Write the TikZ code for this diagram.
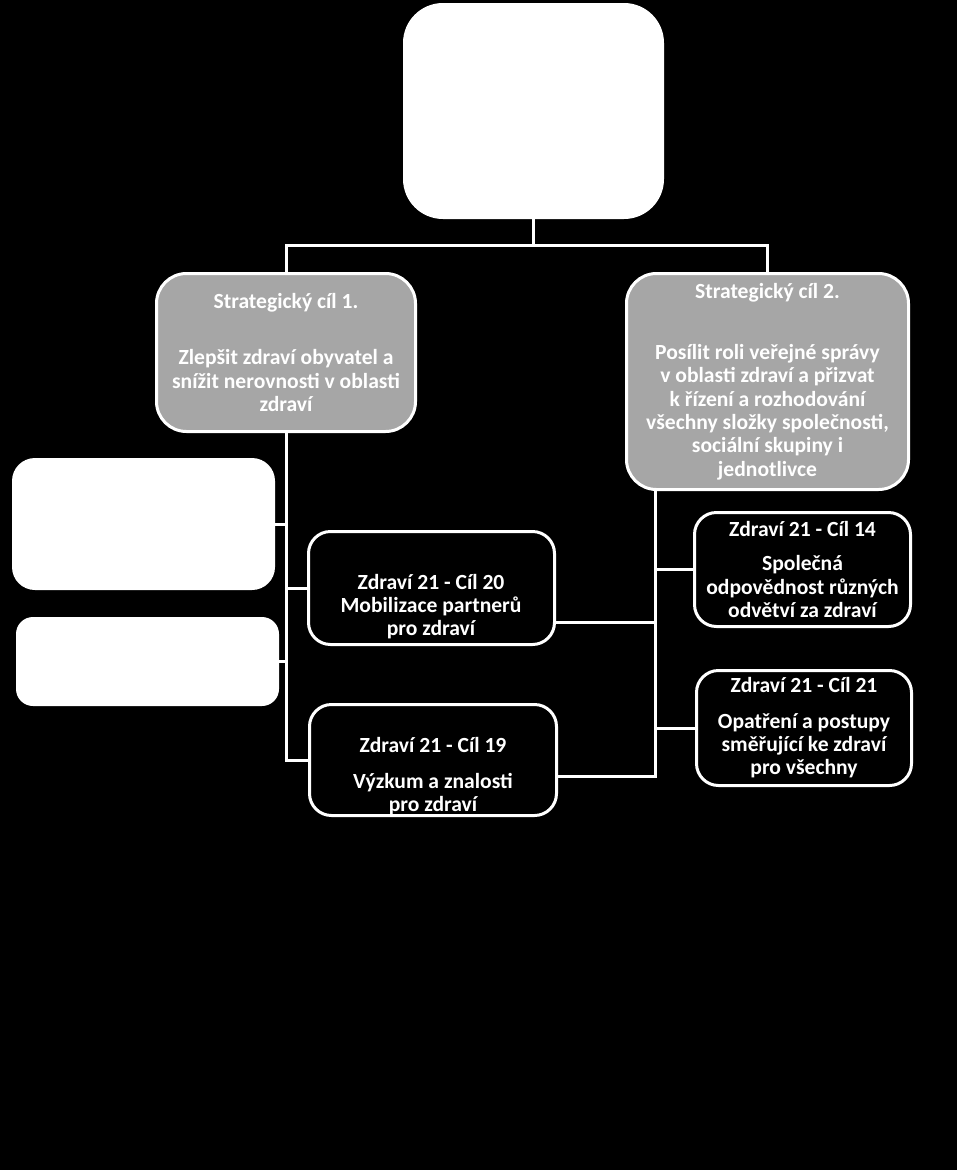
\documentclass[tikz,border=0pt]{standalone}
\usepackage{fontspec}
\setmainfont{Carlito}
\usepackage{tikz}
\usetikzlibrary{calc}
\definecolor{stratgray}{RGB}{166,166,166}

\begin{document}
\begin{tikzpicture}[x=1pt, y=-1pt,
		every node/.style={font=\fontsize{21.6}{23.3}\selectfont\bfseries, text=white, align=center, inner sep=0pt},
		stratbox/.style={draw=white, line width=3pt, fill=stratgray, rounded corners=30pt},
		goalbox/.style={draw=white, line width=3pt, fill=black, rounded corners=22pt},
		blankbox/.style={fill=white, rounded corners=#1},
		blankbox/.default=20pt,
		link/.style={draw=white, line width=3pt}]
			\fill[black](0, 0) rectangle (957, 1170);
			\useasboundingbox (0, 0) rectangle (957, 1170);

			% top and the two strategic goals
			\node[blankbox=40pt, minimum width=261pt, minimum height=216pt] (top) at (533.5, 111) {};
			\node[stratbox, minimum width=259pt, minimum height=158pt] (s1) at (286, 352.5) {Strategický cíl 1.\\[33pt]Zlepšit zdraví obyvatel a\\snížit nerovnosti v oblasti\\zdraví};
			\node[stratbox, minimum width=282pt, minimum height=216pt] (s2) at (767.5, 381.5) {Strategický cíl 2.\\[38pt]Posílit roli veřejné správy\\v oblasti zdraví a přizvat\\k řízení a rozhodování\\všechny složky společnosti,\\sociální skupiny i\\jednotlivce};

			% left column
			\node[blankbox=23pt, minimum width=263pt, minimum height=132pt] (boxA) at (143.5, 524) {};
			\node[blankbox=17pt, minimum width=263pt, minimum height=89pt] (boxB) at (147.5, 661.5) {};
			\node[goalbox, minimum width=246pt, minimum height=113pt] (c20) at (431.5, 588) {};
			\node (c20text) at (431, 606.5) {Zdraví 21 - Cíl 20\\Mobilizace partnerů\\pro zdraví};
			\node[goalbox, minimum width=247pt, minimum height=111pt] (c19) at (433, 760) {};
			\node (c19text) at (433, 776) {Zdraví 21 - Cíl 19\\[13pt]Výzkum a znalosti\\pro zdraví};

			% right column
			\node[goalbox, minimum width=216pt, minimum height=114pt] (c14) at (802.5, 569.5) {Zdraví 21 - Cíl 14\\[11pt]Společná\\odpovědnost různých\\odvětví za zdraví};
			\node[goalbox, minimum width=215pt, minimum height=115pt] (c21) at (804, 728) {Zdraví 21 - Cíl 21\\[12pt]Opatření a postupy\\směřující ke zdraví\\pro všechny};

			% connectors
			\draw[link](top.south)--++(0, 26) coordinate (fork);
			\draw[link](s1.north)|-(fork)-|(s2.north);

			\draw[link](s1.south)|-(c19.west);
			\draw[link](boxA.east)--(boxA.east -| s1.south);
			\draw[link](boxB.east)--(boxB.east -| s1.south);
			\draw[link](c20.west)--(c20.west -| s1.south);

			\coordinate (rspine) at ([xshift=-112.5pt]s2.south);
			\coordinate (c20out) at ([yshift=-34pt]c20.east);
			\coordinate (c19out) at ([yshift=-16pt]c19.east);
			\draw[link](rspine)|-(c19out);
			\draw[link](c20out)--(c20out -| rspine);
			\draw[link](c14.west)--(c14.west -| rspine);
			\draw[link](c21.west)--(c21.west -| rspine);
		\end{tikzpicture}
\end{document}
